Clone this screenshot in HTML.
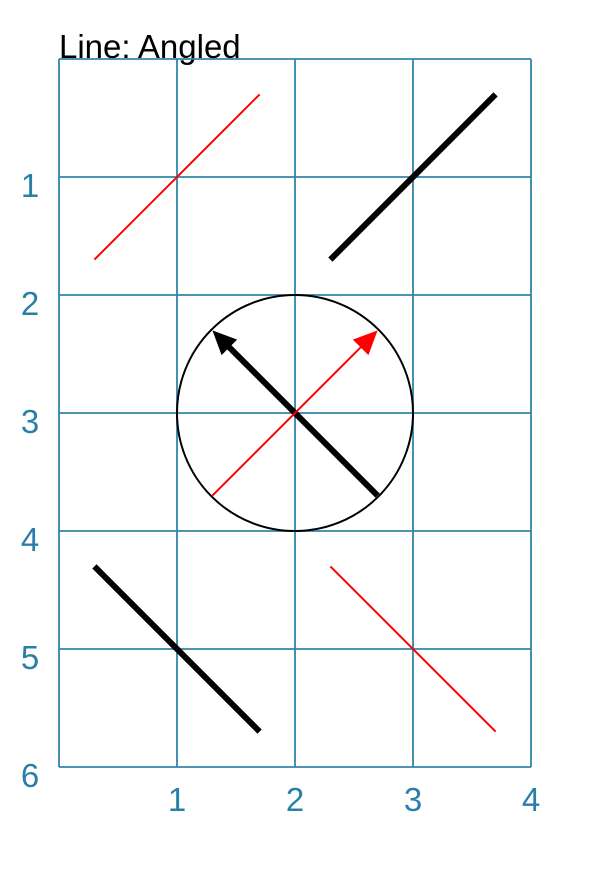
<!DOCTYPE html>
<html><head><meta charset="utf-8"><style>
html,body{margin:0;padding:0;background:#fff;}
svg{display:block;font-family:"Liberation Sans",sans-serif;}
</style></head><body>
<svg id="chart" width="613" height="875" viewBox="0 0 613 875">
<text x="59" y="58" font-size="33" fill="#000">Line: Angled</text>
<g id="grid"></g>
<g id="ticks"></g>
<g id="marks"></g>
</svg>
<script>
const xTicks = [1, 2, 3, 4];
const yTicks = [1, 2, 3, 4, 5, 6];
const thinRedLines = [[0.3, 1.7, 1.7, 0.3], [2.3, 4.3, 3.7, 5.7]];
const thickBlackLines = [[2.3, 1.7, 3.7, 0.3], [0.3, 4.3, 1.7, 5.7]];
const circleData = [2, 3, 1];
const blackArrow = [2.7, 3.7, 1.3, 2.3];
const redArrow = [1.3, 3.7, 2.7, 2.3];

const X0 = 59, Y0 = 59, U = 118;
const sx = v => X0 + U * v;
const sy = v => Y0 + U * v;
const NS = 'http://www.w3.org/2000/svg';
function mk(tag, attrs, parent) {
  const e = document.createElementNS(NS, tag);
  for (const k in attrs) e.setAttribute(k, attrs[k]);
  parent.appendChild(e);
  return e;
}
const grid = document.getElementById('grid');
const ticks = document.getElementById('ticks');
const marks = document.getElementById('marks');
const gc = '#3284aa';
for (let i = 0; i <= 4; i++) {
  const l = mk('line', {x1: sx(i), x2: sx(i), y1: sy(0), y2: sy(6), stroke: gc, 'stroke-width': 1.8}, grid);
  
  
}
for (let j = 0; j <= 6; j++) {
  const l = mk('line', {x1: sx(0), x2: sx(4), y1: sy(j), y2: sy(j), stroke: gc, 'stroke-width': 1.8}, grid);
  
  
}
xTicks.forEach(t => {
  const e = mk('text', {x: sx(t), y: 811, 'text-anchor': 'middle', 'font-size': 33, fill: '#2a7fa8'}, ticks);
  e.textContent = t;
  
  
});
yTicks.forEach(t => {
  const e = mk('text', {x: 30, y: sy(t) + 20, 'text-anchor': 'middle', 'font-size': 33, fill: '#2a7fa8'}, ticks);
  e.textContent = t;
  
  
});
const c = mk('circle', {cx: sx(circleData[0]), cy: sy(circleData[1]), r: U * circleData[2], fill: 'none', stroke: '#000', 'stroke-width': 2}, marks);


thinRedLines.forEach(d => {
  const l = mk('line', {x1: sx(d[0]), y1: sy(d[1]), x2: sx(d[2]), y2: sy(d[3]), stroke: '#ff0000', 'stroke-width': 2}, marks);
  
  
});
thickBlackLines.forEach(d => {
  const l = mk('line', {x1: sx(d[0]), y1: sy(d[1]), x2: sx(d[2]), y2: sy(d[3]), stroke: '#000', 'stroke-width': 6}, marks);
  
  
});
function arrow(d, color, w, len, half, name) {
  const x1 = sx(d[0]), y1 = sy(d[1]), x2 = sx(d[2]), y2 = sy(d[3]);
  const dx = x2 - x1, dy = y2 - y1, L = Math.hypot(dx, dy);
  const ux = dx / L, uy = dy / L;
  const bx = x2 - ux * len, by = y2 - uy * len;
  const l = mk('line', {x1: x1, y1: y1, x2: bx + ux * 2, y2: by + uy * 2, stroke: color, 'stroke-width': w}, marks);
  
  
  const p = mk('polygon', {points: `${x2},${y2} ${bx - uy * half},${by + ux * half} ${bx + uy * half},${by - ux * half}`, fill: color}, marks);
  
  
}
arrow(blackArrow, '#000', 6, 24, 11, 'black-arrow');
arrow(redArrow, '#ff0000', 2, 24, 11, 'red-arrow');
</script>
</body></html>
